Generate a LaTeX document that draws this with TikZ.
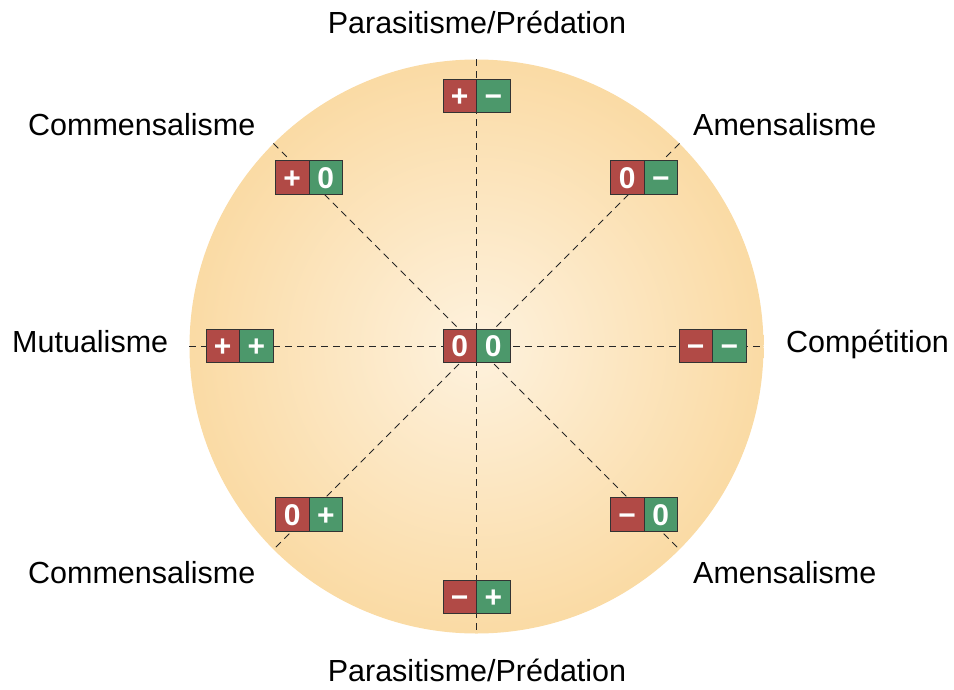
\documentclass[tikz,border=0pt]{standalone}
\usepackage{fontspec}
\setmainfont{Liberation Sans}
\definecolor{rbox}{RGB}{177,74,70}
\definecolor{gbox}{RGB}{76,152,107}
\definecolor{discin}{RGB}{254,242,222}
\definecolor{discout}{RGB}{249,211,146}
\pgfdeclareradialshading{discshade}{\pgfpoint{0bp}{0bp}}{color(0bp)=(discin); color(33bp)=(discout); color(50bp)=(discout)}
\newcommand\mns{−}
\newcommand\pls{+}
\newcommand\pairbox[5]{%
  \node[half,fill=rbox] (#1l) at (#2-16.8,#3) {#4};
  \node[half,fill=gbox] (#1r) at (#2+16.8,#3) {#5};}
\begin{document}
\begin{tikzpicture}[x=1pt,y=-1pt,
  lbl/.style={font=\fontsize{30.5}{36}\selectfont, inner sep=0pt},
  half/.style={draw=black!80, line width=0.8pt, minimum width=33.6pt, minimum height=33.6pt,
    inner sep=0pt, text=white, font=\bfseries\fontsize{30}{36}\selectfont,
    text height=21.5pt, text depth=0pt},
  guide/.style={line width=0.8pt, dash pattern=on 7pt off 5pt, black!85}]
\useasboundingbox (0,0) rectangle (954,689);
\node[circle, minimum size=574pt, inner sep=0pt, shading=discshade] (disc) at (476.5,346.5) {};
\draw[guide] (disc.north) -- (disc.south);
\draw[guide] (disc.west) -- (disc.east);
\draw[guide] (disc.135) -- (disc.-45);
\draw[guide] (disc.45) -- (disc.-135);
\pairbox{top}{476.5}{96}{\pls}{\mns}
\pairbox{tl}{309}{177.5}{\pls}{0}
\pairbox{tr}{644}{177.5}{0}{\mns}
\pairbox{l}{239.5}{346}{\pls}{\pls}
\pairbox{c}{476.5}{346}{0}{0}
\pairbox{r}{712.5}{346}{\mns}{\mns}
\pairbox{bl}{309}{514.5}{0}{\pls}
\pairbox{br}{644}{514.5}{\mns}{0}
\pairbox{bot}{476.5}{597}{\mns}{\pls}
\node[lbl, anchor=base] (ptop) at (477,33) {Parasitisme/Prédation};
\node[lbl, anchor=base west] (comtl) at (28,135) {Commensalisme};
\node[lbl, anchor=base west] (amtr) at (693,135) {Amensalisme};
\node[lbl, anchor=base west] (mut) at (12,352) {Mutualisme};
\node[lbl, anchor=base west] (comp) at (786,352) {Compétition};
\node[lbl, anchor=base west] (combl) at (28,583) {Commensalisme};
\node[lbl, anchor=base west] (ambr) at (693,583) {Amensalisme};
\node[lbl, anchor=base] (pbot) at (477,681) {Parasitisme/Prédation};
\end{tikzpicture}
\end{document}
